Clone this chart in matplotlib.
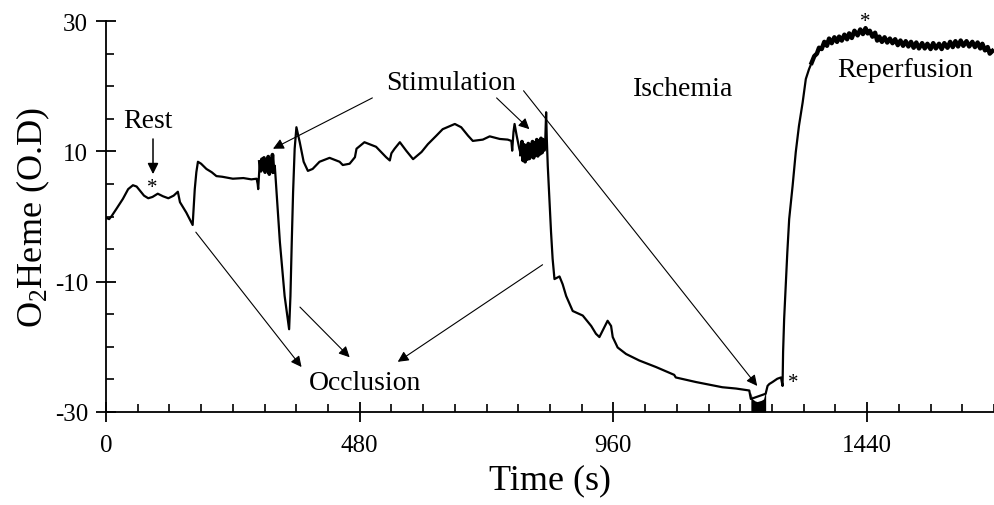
import matplotlib
matplotlib.use("Agg")
import matplotlib.pyplot as plt
from matplotlib.ticker import MultipleLocator

plt.rcParams["font.family"] = ["Liberation Serif", "DejaVu Serif"]
plt.rcParams["mathtext.fontset"] = "custom"
plt.rcParams["mathtext.rm"] = "Liberation Serif"
plt.rcParams["mathtext.it"] = "Liberation Serif:italic"
plt.rcParams["axes.unicode_minus"] = False

# O2Heme trace (time in s, value in O.D)
time_s = [0, 6, 11, 20, 32, 42, 51, 58, 64, 72, 80, 88, 98, 108, 118, 128, 136, 140,
          152, 164, 166, 168, 171, 174, 180, 190, 200, 209, 220, 240, 260, 275, 285, 287, 288,
          291, 293, 295, 297, 299, 301, 303, 305, 307, 309, 311, 313, 315, 317, 319.4,
          329, 338, 346.5, 349, 351.5, 354, 357, 360.3, 366.6, 374, 382, 391, 404, 423, 442,
          448, 461, 471, 474, 489, 511, 530, 537, 540, 546, 556, 568, 581, 597, 609, 625,
          637, 660, 672, 685, 694, 713, 726, 745, 760, 767, 768.5, 771, 773, 777, 782,
          785, 787, 789, 791, 793, 795, 797, 799, 801, 803, 805, 807, 809, 811, 813, 815,
          817, 819, 821, 823, 825, 827, 829, 831, 832.7,
          834, 835.8, 839, 842, 845, 848.5, 858, 864, 870.6, 883, 902, 918, 927, 933.5,
          941, 949, 955.6, 958.7, 968, 984, 1009, 1040.6, 1075, 1078, 1116, 1166, 1192,
          1217, 1220, 1248, 1251.6, 1255, 1261, 1270, 1277, 1280,
          1281, 1283, 1286, 1289, 1292.5, 1299, 1305, 1311, 1318, 1324, 1330, 1335, 1340,
          1345, 1349, 1354, 1359, 1364, 1368, 1373, 1378, 1383, 1387, 1392, 1397, 1402,
          1406, 1411, 1416, 1422, 1427, 1432, 1437, 1441, 1445, 1450, 1455, 1459, 1463,
          1468, 1473, 1478, 1483, 1488, 1493, 1498, 1503, 1508, 1513, 1518, 1523, 1528,
          1533, 1538, 1544, 1549, 1554, 1560, 1565, 1570, 1576, 1581, 1586, 1592, 1597,
          1602, 1607, 1612, 1617, 1622, 1628, 1633, 1639, 1644, 1649, 1654, 1658, 1663,
          1668, 1672, 1677]
o2heme = [-0.2, -0.4, 0.1, 1.2, 2.7, 4.2, 4.8, 4.6, 4.0, 3.2, 2.8, 3.0, 3.5, 3.1, 2.8, 3.2, 3.8, 2.2,
          0.6, -1.3, 1.5, 4.2, 6.8, 8.4, 8.1, 7.3, 6.8, 6.2, 6.1, 5.8, 5.9, 5.7, 5.8, 5.0, 4.2,
          8.4, 7.0, 8.8, 7.5, 9.0, 6.8, 8.6, 7.2, 9.2, 6.5, 8.8, 7.0, 9.5, 6.8, 7.8,
          -3.9, -12.2, -17.3, -12.2, -3.9, 3.7, 10.4, 13.7, 11.4, 8.4, 7.0, 7.3, 8.4, 9.0, 8.4,
          7.9, 8.1, 9.1, 10.4, 11.4, 10.7, 9.1, 8.6, 9.7, 10.4, 11.4, 10.1, 8.8, 9.9, 11.1, 12.4,
          13.4, 14.2, 13.7, 12.4, 11.6, 11.8, 12.3, 11.9, 11.8, 11.6, 10.1, 13.0, 14.2, 12.4, 10.4,
          9.5, 11.5, 8.6, 11.0, 8.4, 10.8, 8.8, 11.2, 8.9, 11.0, 9.2, 11.5, 9.0, 11.3, 9.5, 11.8,
          9.3, 11.6, 9.6, 12.0, 9.8, 11.8, 10.2, 11.5, 16.0,
          11.9, 7.8, 2.7, -2.4, -6.5, -9.6, -9.2, -10.4, -12.2, -14.5, -15.2, -16.8, -18.0, -18.5,
          -17.3, -16.0, -16.8, -18.5, -20.1, -21.1, -22.1, -23.1, -24.3, -24.7, -25.4, -26.2, -26.4,
          -26.7, -28.0, -27.2, -26.0, -25.7, -25.4, -24.9, -24.7, -26.0,
          -20.8, -15.7, -10.6, -5.5, -0.4, 4.7, 9.9, 13.9, 17.5, 21.1, 22.6, 23.6, 24.6,
          25.0, 25.9, 25.7, 26.8, 26.2, 27.3, 26.6, 27.5, 26.8, 27.6, 27.0, 27.9, 27.2,
          28.1, 27.4, 28.5, 27.8, 28.7, 28.0, 28.9, 28.1, 28.5, 27.6, 28.2, 27.0, 27.6,
          26.8, 27.5, 26.7, 27.3, 26.6, 27.2, 26.3, 27.0, 26.2, 26.9, 26.1, 26.8, 25.9,
          26.7, 25.8, 26.6, 25.8, 26.5, 25.7, 26.6, 25.8, 26.5, 25.7, 26.6, 25.9, 26.8,
          26.0, 26.9, 26.1, 27.0, 26.2, 26.9, 26.1, 26.8, 26.0, 26.7, 25.8, 26.5, 25.5,
          26.0, 25.0, 25.4]

# dark noisy band at the end of ischemia
band_time = [1220, 1223, 1228, 1232, 1236, 1240, 1244, 1248]
band_top = [-27.0, -28.0, -28.3, -28.4, -28.3, -28.2, -28.0, -26.8]
band_bottom = [-30, -30, -30, -30, -30, -30, -30, -30]

fig = plt.figure(figsize=(9.94, 5.06), dpi=100)
ax = fig.add_axes([0.1066, 0.1838, 0.8934, 0.7727])

ax.plot(time_s, o2heme, color="black", lw=1.6, solid_joinstyle="round")
# noisy stretches look thicker in the original trace
for t0, t1, w in [(289, 319, 2.6), (784, 832, 2.6), (1333, 1680, 3.2)]:
    seg_t = [t for t in time_s if t0 <= t <= t1]
    seg_y = [y for t, y in zip(time_s, o2heme) if t0 <= t <= t1]
    ax.plot(seg_t, seg_y, color="black", lw=w, solid_joinstyle="round")
ax.fill_between(band_time, band_bottom, band_top, color="black", lw=0)

ax.set_xlim(0, 1680)
ax.set_ylim(-30, 30)
ax.xaxis.set_major_locator(MultipleLocator(480))
ax.xaxis.set_minor_locator(MultipleLocator(60))
ax.yaxis.set_minor_locator(MultipleLocator(5))
ax.set_yticks([-30, -10, 10, 30])
ax.tick_params(which="major", direction="inout", length=14, width=1.3, labelsize=18, pad=6)
ax.tick_params(which="minor", direction="in", length=6, width=1.2)
ax.tick_params(axis="x", which="major", pad=9)
for side in ["top", "right"]:
    ax.spines[side].set_visible(False)
for side in ["left", "bottom"]:
    ax.spines[side].set_linewidth(1.3)

ax.set_xlabel("Time (s)", fontsize=26, labelpad=5)
ax.set_ylabel("O$_2$Heme (O.D)", fontsize=26, labelpad=2)

txt = dict(fontsize=20, ha="center", va="center")
ax.text(79, 14.7, "Rest", **txt)
ax.text(652, 20.5, "Stimulation", **txt)
ax.text(1092, 19.6, "Ischemia", **txt)
ax.text(1512, 22.6, "Reperfusion", **txt)
ax.text(491, -25.4, "Occlusion", **txt)

star = dict(fontsize=15, ha="center", va="center", clip_on=False)
ax.text(88, 4.4, "*", **star)
ax.text(1300, -25.5, "*", **star)
ax.text(1436, 30.0, "*", **star)

arrow = dict(arrowstyle="-|>", color="black", lw=0.8, mutation_scale=16, shrinkA=0, shrinkB=0)
ax.annotate("", xy=(89, 6.5), xytext=(89, 11.9), arrowprops=dict(arrow, lw=1.1))
# stimulation arrows
ax.annotate("", xy=(316, 10.4), xytext=(504, 18.2), arrowprops=arrow)
ax.annotate("", xy=(801, 13.4), xytext=(739, 18.2), arrowprops=arrow)
ax.annotate("", xy=(1232, -26.0), xytext=(790, 19.3), arrowprops=arrow)
# occlusion arrows
ax.annotate("", xy=(370, -23.1), xytext=(170, -2.4), arrowprops=arrow)
ax.annotate("", xy=(461, -21.6), xytext=(367, -13.9), arrowprops=arrow)
ax.annotate("", xy=(552, -22.3), xytext=(826, -7.4), arrowprops=arrow)

fig.savefig("out.png", dpi=100)
